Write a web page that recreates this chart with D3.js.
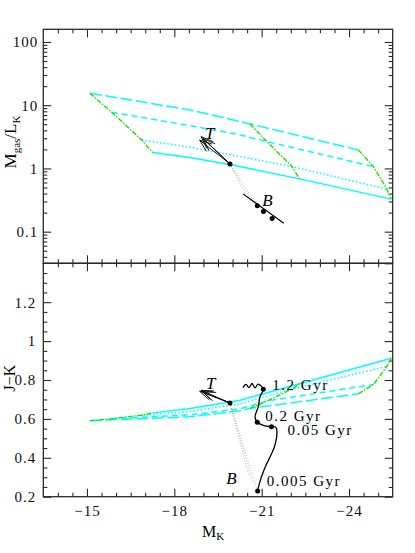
<!DOCTYPE html>
<html>
<head>
<meta charset="utf-8">
<script src="https://cdn.jsdelivr.net/npm/d3@7"></script>
<style>
  body { margin: 0; background: #fff; }
  svg, svg text { font-family: "Liberation Serif", "Times New Roman", serif; }
</style>
</head>
<body>
<svg id="chart" width="415" height="553"></svg>
<script>
// model tracks (start, two points along, the age mark, end)
const trackStyles = ["longdash", "shortdash", "dotted", "solid"];
const trackMK = [
    [-15.10, -18.54, -20.26, -20.60, -24.32],
    [-15.85, -18.54, -20.26, -21.18, -24.84],
    [-16.88, -18.54, -20.26, -22.04, -25.30],
    [-17.26, -18.54, -20.26, -22.30, -25.45]
];
const trackML = [
    [15.5, 8.4, 5.5, 5.06, 1.96],
    [7.74, 4.75, 3.39, 2.66, 1.07],
    [2.82, 2.17, 1.54, 1.07, 0.47],
    [1.78, 1.49, 1.07, 0.684, 0.327]
];
const trackJK = [
    [0.591, 0.611, 0.642, 0.654, 0.729],
    [0.601, 0.621, 0.652, 0.692, 0.777],
    [0.619, 0.638, 0.677, 0.753, 0.870],
    [0.631, 0.654, 0.696, 0.781, 0.912]
];
const isoIndex = [0, 3, 4]; // points joined by the green lines

// T vector and B burst
const startMK = -19.91;
const startML = 1.18;
const startJK = 0.682;
const tipMK = [-18.92, -18.99, -18.87];
const tipML = [3.18, 2.95, 2.80];
const tipJK = [0.747, 0.738, 0.742];
const bLineMK = [-20.36, -21.76];
const bLineML = [0.396, 0.136];
const bDotMK = [-20.85, -21.06, -21.36];
const bDotML = [0.256, 0.208, 0.161];
const bFanMK = [-20.55, -20.72, -20.85];
const bFanML = [0.30, 0.27, 0.256];

// burst track, lower panel
const burstMK = [-20.863, -20.925, -21.080, -21.252, -21.424, -21.509, -21.519, -21.475, -21.337,
    -21.080, -20.849, -20.771, -20.884, -20.942, -21.056,
    -20.874, -20.771, -20.668, -20.565, -20.462, -20.358];
const burstJK = [0.229, 0.270, 0.337, 0.394, 0.450, 0.502, 0.543, 0.558, 0.560,
    0.566, 0.583, 0.611, 0.663, 0.714, 0.752,
    0.779, 0.759, 0.782, 0.761, 0.777, 0.761];
const ageIndex = [0, 8, 10, 14];
const ageLabels = ["0.005 Gyr", "0.05 Gyr", "0.2 Gyr", "1.2 Gyr"];
const bFanLowMK = [-20.863, -20.70, -20.55];
const bFanLowJK = [0.229, 0.27, 0.31];

// ticks
const xMajor = [-15, -18, -21, -24];
const xLabels = ["−15", "−18", "−21", "−24"];
const mlMajor = [0.1, 1, 10, 100];
const mlLabels = ["0.1", "1", "10", "100"];
const jkMajor = [0.2, 0.4, 0.6, 0.8, 1.0, 1.2, 1.4];

const cyan = "#00ffff";
const green = "#22dd00";
const frameColor = "#2a2a2a";
const serif = "'Liberation Serif', 'Times New Roman', serif";
const dashes = {longdash: "12,3.5", shortdash: "6,4", dotted: "1.5,2.2", solid: null};

const L = 43.3, R = 392.7, T1 = 29.3, MID = 263.3, B2 = 496.7;

const svg = d3.select("#chart");
const x = d3.scaleLinear().domain([-13.5, -25.5]).range([L, R]);
const yTop = d3.scaleLog().domain([Math.pow(10, -1.5), Math.pow(10, 2.2)]).range([MID, T1]);
const yBot = d3.scaleLinear().domain([0.2, 1.4]).range([B2, MID]);

const xMinor = d3.range(-14, -25.4, -0.5).filter((v) => xMajor.indexOf(v) < 0);
let mlMinor = [];
[-2, -1, 0, 1, 2].forEach((d) => {
    for (let m = 2; m <= 9; m++) {
        const v = m * Math.pow(10, d);
        if (v > yTop.domain()[0] && v < yTop.domain()[1]) mlMinor.push(v);
    }
});
const jkMinor = d3.range(0.25, 1.4, 0.05).map((v) => +v.toFixed(2))
    .filter((v) => jkMajor.indexOf(v) < 0);

// axis helper: ticks point inwards, labels optional
const addAxis = function(axisFn, scale, values, size, transform, labels, pad) {
    const ax = axisFn(scale).tickValues(values).tickSize(-size).tickPadding(pad || 4)
        .tickFormat((d, i) => labels ? labels[i] : "");
    const g = svg.append("g").attr("transform", transform).call(ax);
    g.select(".domain").remove();
    g.attr("font-family", serif).attr("font-size", null);
    g.selectAll("line").attr("stroke", frameColor).attr("stroke-width", 1.1);
    g.selectAll("text").attr("font-family", serif).attr("font-size", 15)
        .attr("fill", "#111").attr("letter-spacing", 1);
    return g;
};

// upper panel axes
addAxis(d3.axisLeft, yTop, mlMajor, 8, `translate(${L},0)`, mlLabels, 5);
addAxis(d3.axisLeft, yTop, mlMinor, 4, `translate(${L},0)`);
addAxis(d3.axisRight, yTop, mlMajor, 8, `translate(${R},0)`);
addAxis(d3.axisRight, yTop, mlMinor, 4, `translate(${R},0)`);
addAxis(d3.axisTop, x, xMajor, 8, `translate(0,${T1})`);
addAxis(d3.axisTop, x, xMinor, 4, `translate(0,${T1})`);
addAxis(d3.axisBottom, x, xMajor, 8, `translate(0,${MID})`);
addAxis(d3.axisBottom, x, xMinor, 4, `translate(0,${MID})`);

// lower panel axes
addAxis(d3.axisLeft, yBot, jkMajor.slice(0, 6), 8, `translate(${L},0)`,
    jkMajor.slice(0, 6).map((v) => d3.format("~g")(v)), 7);
addAxis(d3.axisLeft, yBot, jkMinor, 4, `translate(${L},0)`);
addAxis(d3.axisRight, yBot, jkMajor, 8, `translate(${R},0)`);
addAxis(d3.axisRight, yBot, jkMinor, 4, `translate(${R},0)`);
addAxis(d3.axisTop, x, xMajor, 8, `translate(0,${MID})`);
addAxis(d3.axisTop, x, xMinor, 4, `translate(0,${MID})`);
addAxis(d3.axisBottom, x, xMajor, 8, `translate(0,${B2})`, xLabels, 9);
addAxis(d3.axisBottom, x, xMinor, 4, `translate(0,${B2})`);

// frames
[[T1, MID], [MID, B2]].forEach((p) => {
    svg.append("rect").attr("x", L).attr("y", p[0]).attr("width", R - L).attr("height", p[1] - p[0])
        .attr("fill", "none").attr("stroke", frameColor).attr("stroke-width", 1.3);
});

const drawPanel = function(yScale, vals) {
    const line = d3.line().x((d) => x(d[0])).y((d) => yScale(d[1]));
    const g = svg.append("g");
    trackStyles.forEach((s, i) => {
        const pts = trackMK[i].map((m, j) => [m, vals[i][j]]);
        g.append("path").attr("d", line(pts)).attr("fill", "none")
            .attr("stroke", cyan).attr("stroke-width", 1.5)
            .attr("stroke-dasharray", dashes[s]);
    });
    isoIndex.forEach((k) => {
        const pts = trackStyles.map((s, i) => [trackMK[i][k], vals[i][k]]);
        g.append("path").attr("d", line(pts)).attr("fill", "none")
            .attr("stroke", green).attr("stroke-width", 1.4)
            .attr("stroke-dasharray", "5,1.5,1.5,1.5");
    });
    return g;
};

const arrow = function(g, x0, y0, x1, y1) {
    g.append("line").attr("x1", x0).attr("y1", y0).attr("x2", x1).attr("y2", y1);
    const a = Math.atan2(y0 - y1, x0 - x1);
    [-0.36, 0.36].forEach((da) => {
        g.append("line").attr("x1", x1).attr("y1", y1)
            .attr("x2", x1 + 13 * Math.cos(a + da)).attr("y2", y1 + 13 * Math.sin(a + da));
    });
};

const dot = function(px, py) {
    svg.append("circle").attr("cx", px).attr("cy", py).attr("r", 2.5).attr("fill", "#000");
};

const fanLine = function(g, x0, y0, x1, y1) {
    g.append("line").attr("x1", x0).attr("y1", y0).attr("x2", x1).attr("y2", y1);
};

// ---- upper panel
drawPanel(yTop, trackML);
let ga = svg.append("g").attr("stroke", "#000").attr("stroke-width", 0.9);
tipMK.forEach((m, i) => arrow(ga, x(startMK), yTop(startML), x(m), yTop(tipML[i])));
let gf = svg.append("g").attr("stroke", "#999").attr("stroke-width", 0.6).attr("stroke-dasharray", "1,1.6");
bFanMK.forEach((m, i) => fanLine(gf, x(startMK), yTop(startML), x(m), yTop(bFanML[i])));
svg.append("line").attr("x1", x(bLineMK[0])).attr("y1", yTop(bLineML[0]))
    .attr("x2", x(bLineMK[1])).attr("y2", yTop(bLineML[1]))
    .attr("stroke", "#000").attr("stroke-width", 1.2);
dot(x(startMK), yTop(startML));
bDotMK.forEach((m, i) => dot(x(m), yTop(bDotML[i])));
svg.append("text").attr("x", x(tipMK[0]) + 4).attr("y", yTop(tipML[0]) + 2)
    .attr("font-size", 17).attr("font-style", "italic").text("T");
svg.append("text").attr("x", x(bDotMK[0]) + 5).attr("y", yTop(bDotML[0]) - 0)
    .attr("font-size", 17).attr("font-style", "italic").text("B");

// ---- lower panel
drawPanel(yBot, trackJK);
ga = svg.append("g").attr("stroke", "#000").attr("stroke-width", 0.9);
tipMK.forEach((m, i) => arrow(ga, x(startMK), yBot(startJK), x(m), yBot(tipJK[i])));
gf = svg.append("g").attr("stroke", "#999").attr("stroke-width", 0.6).attr("stroke-dasharray", "1,1.6");
bFanLowMK.forEach((m, i) => fanLine(gf, x(startMK), yBot(startJK), x(m), yBot(bFanLowJK[i])));
const burst = burstMK.map((m, i) => [m, burstJK[i]]);
svg.append("path").attr("d", d3.line().x((d) => x(d[0])).y((d) => yBot(d[1])).curve(d3.curveCatmullRom)(burst))
    .attr("fill", "none").attr("stroke", "#000").attr("stroke-width", 1.3);
dot(x(startMK), yBot(startJK));
const labelOffset = [[9, -5], [16, 8], [8, -1], [9, 1]];
ageIndex.forEach((k, i) => {
    const px = x(burstMK[k]), py = yBot(burstJK[k]);
    dot(px, py);
    svg.append("text").attr("x", px + labelOffset[i][0]).attr("y", py + labelOffset[i][1])
        .attr("font-size", 15).attr("letter-spacing", 1.5).text(ageLabels[i]);
});
svg.append("text").attr("x", x(tipMK[0]) + 5).attr("y", yBot(tipJK[0]) - 1)
    .attr("font-size", 17).attr("font-style", "italic").text("T");
svg.append("text").attr("x", x(-19.78)).attr("y", yBot(0.265))
    .attr("font-size", 17).attr("font-style", "italic").text("B");

// axis titles
const yt = svg.append("text").attr("transform", "translate(16,142) rotate(-90)")
    .attr("text-anchor", "middle").attr("font-size", 17);
yt.append("tspan").text("M");
yt.append("tspan").attr("font-size", 11).attr("dy", 4).text("gas");
yt.append("tspan").attr("dy", -4).text("/L");
yt.append("tspan").attr("font-size", 11).attr("dy", 4).text("K");

svg.append("text").attr("transform", "translate(15,378) rotate(-90)")
    .attr("text-anchor", "middle").attr("font-size", 16).text("J−K");

const xt = svg.append("text").attr("x", 202).attr("y", 537).attr("font-size", 16);
xt.append("tspan").text("M");
xt.append("tspan").attr("font-size", 11).attr("dy", 3).text("K");
</script>
</body>
</html>
